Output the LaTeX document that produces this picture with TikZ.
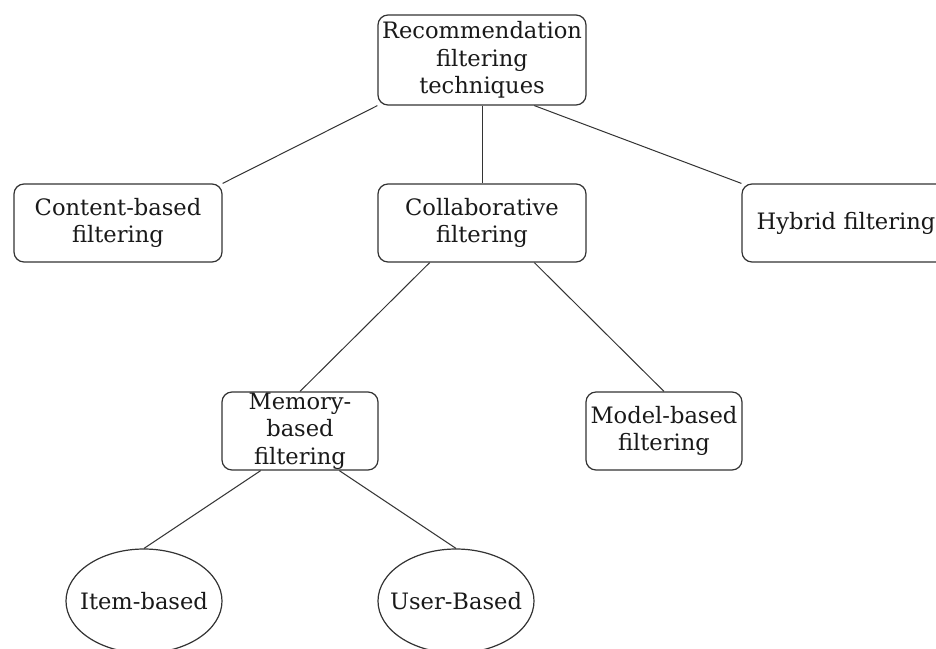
\documentclass[tikz,border=0pt]{standalone}
\usepackage{fontspec}
\setmainfont{DejaVu Serif}
\usetikzlibrary{shapes.geometric,calc}
\tikzset{
  txt/.style={font=\fontsize{22.6}{27.5}\selectfont, text=black!90},
  wide/.style={txt, draw=black!80, line width=1.2pt, rounded corners=10pt,
    inner sep=0pt, text width=208pt, minimum width=208pt, align=center},
  narrow/.style={wide, text width=156pt, minimum width=156pt},
  oval/.style={draw=black!80, line width=1.2pt, ellipse, inner sep=0pt,
    minimum width=156pt, minimum height=104pt},
  link/.style={draw=black!80, line width=1pt}
}
\begin{document}
\begin{tikzpicture}[x=1pt,y=-1pt]
\clip (0,0) rectangle (936,648);
\fill[white] (0,0) rectangle (936,648);

\node[wide, minimum height=90pt] (root) at (482,60) {Recommendation\\filtering\\techniques};
\node[wide, minimum height=78pt] (content) at (118,223) {Content-based\\filtering};
\node[wide, minimum height=78pt] (collab) at (482,223) {Collaborative\\filtering};
\node[wide, minimum height=78pt] (hybrid) at (846,223) {Hybrid filtering};
\node[narrow, minimum height=78pt] (memory) at (300,431) {Memory-\\based\\filtering};
\node[narrow, minimum height=78pt] (model) at (664,431) {Model-based\\filtering};
\node[oval, label={[txt]center:Item-based}] (item) at (144,601) {};
\node[oval, label={[txt]center:User-Based}] (user) at (456,601) {};

\draw[link] (root.south west) -- (content.north east);
\draw[link] (root.south) -- (collab.north);
\draw[link] ($(root.south)!0.5!(root.south east)$) -- (hybrid.north west);
\draw[link] ($(collab.south)!0.5!(collab.south west)$) -- (memory.north);
\draw[link] ($(collab.south)!0.5!(collab.south east)$) -- (model.north);
\draw[link] ($(memory.south)!0.5!(memory.south west)$) -- (item.north);
\draw[link] ($(memory.south)!0.5!(memory.south east)$) -- (user.north);
\end{tikzpicture}
\end{document}
